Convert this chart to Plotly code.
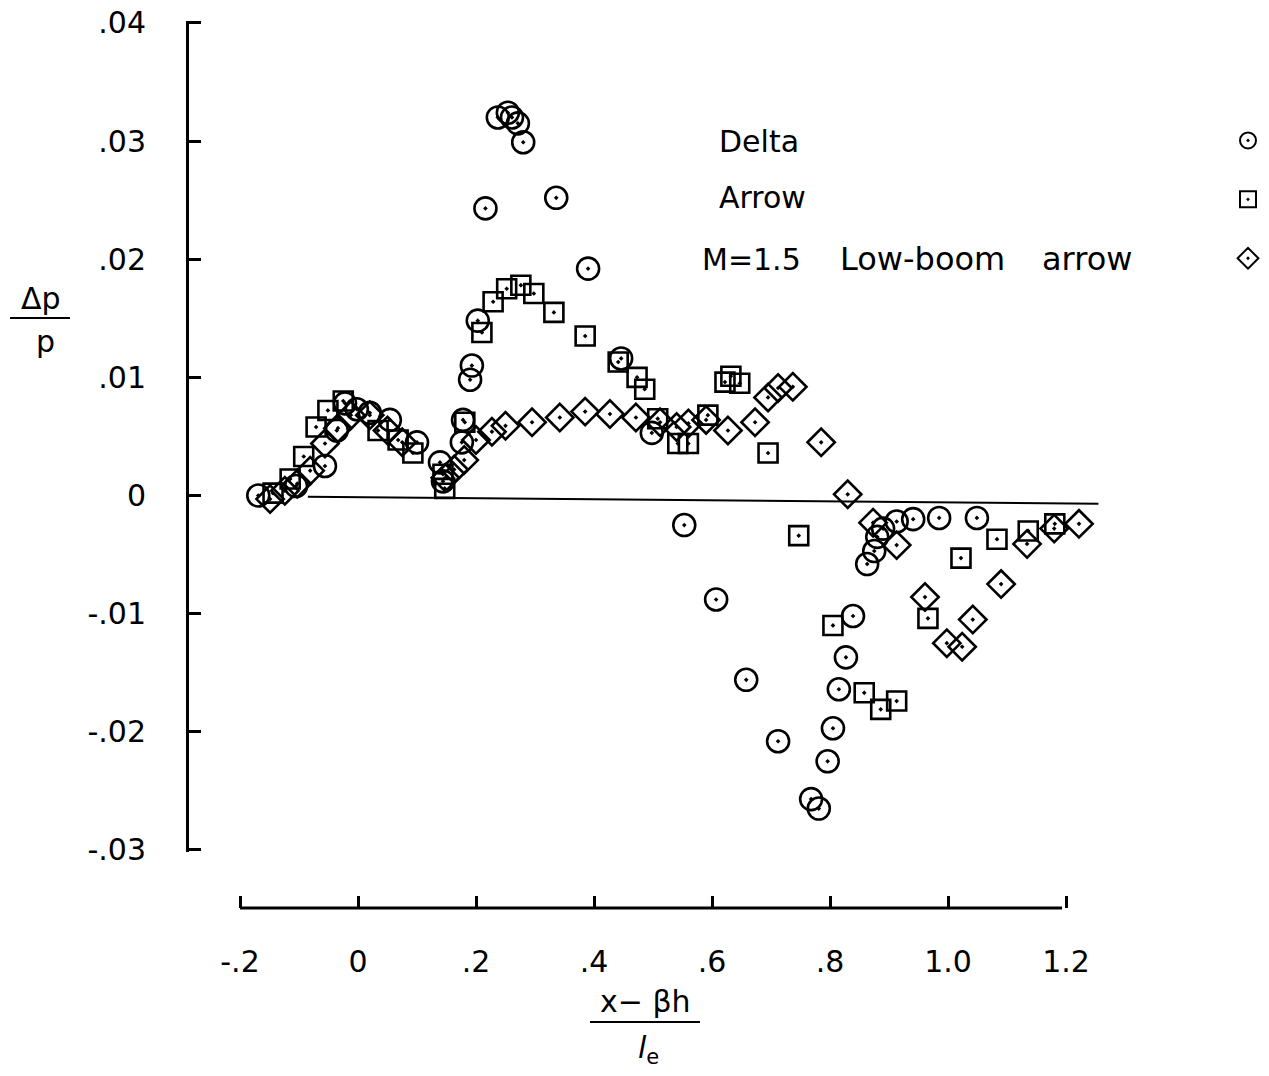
import plotly.graph_objects as go

# ---------------- data ----------------
delta_x = [-0.169, -0.105, -0.056, -0.036, -0.022, -0.002, 0.020, 0.054, 0.100, 0.139,
           0.144, 0.176, 0.178, 0.190, 0.193, 0.203, 0.216, 0.237, 0.254, 0.261,
           0.271, 0.280, 0.336, 0.390, 0.446, 0.498, 0.553, 0.607, 0.658, 0.712,
           0.768, 0.781, 0.796, 0.805, 0.815, 0.827, 0.839, 0.863, 0.875, 0.880,
           0.890, 0.913, 0.941, 0.985, 1.049]
delta_y = [0.0000, 0.0008, 0.0025, 0.0055, 0.0078, 0.0073, 0.0070, 0.0064, 0.0045, 0.0028,
           0.0012, 0.0045, 0.0064, 0.0098, 0.0110, 0.0148, 0.0243, 0.0320, 0.0324, 0.0320,
           0.0315, 0.0299, 0.0252, 0.0192, 0.0116, 0.0053, -0.0025, -0.0088, -0.0156, -0.0208,
           -0.0257, -0.0265, -0.0225, -0.0197, -0.0164, -0.0137, -0.0102, -0.0058, -0.0047, -0.0035,
           -0.0028, -0.0022, -0.0020, -0.0019, -0.0019]

arrow_x = [-0.144, -0.115, -0.092, -0.071, -0.051, -0.025, 0.034, 0.068, 0.093, 0.144,
           0.147, 0.181, 0.210, 0.229, 0.252, 0.276, 0.298, 0.332, 0.385, 0.441,
           0.473, 0.486, 0.508, 0.542, 0.560, 0.593, 0.622, 0.632, 0.647, 0.695,
           0.747, 0.805, 0.858, 0.886, 0.913, 0.966, 1.022, 1.083, 1.136, 1.181]
arrow_y = [0.0002, 0.0014, 0.0033, 0.0058, 0.0072, 0.0080, 0.0055, 0.0047, 0.0036, 0.0018,
           0.0006, 0.0062, 0.0138, 0.0164, 0.0175, 0.0178, 0.0171, 0.0155, 0.0135, 0.0113,
           0.0100, 0.0090, 0.0065, 0.0044, 0.0044, 0.0068, 0.0096, 0.0101, 0.0095, 0.0036,
           -0.0034, -0.0110, -0.0167, -0.0181, -0.0174, -0.0104, -0.0053, -0.0037, -0.0030, -0.0024]

lowboom_x = [-0.149, -0.124, -0.103, -0.081, -0.056, -0.034, -0.012, 0.020, 0.050, 0.075,
             0.148, 0.163, 0.180, 0.200, 0.227, 0.250, 0.295, 0.342, 0.385, 0.427,
             0.471, 0.512, 0.540, 0.560, 0.590, 0.627, 0.673, 0.695, 0.712, 0.737,
             0.785, 0.830, 0.873, 0.913, 0.961, 0.998, 1.024, 1.042, 1.090, 1.134,
             1.180, 1.222]
lowboom_y = [-0.0003, 0.0004, 0.0010, 0.0021, 0.0044, 0.0057, 0.0068, 0.0068, 0.0055, 0.0045,
             0.0015, 0.0022, 0.0030, 0.0047, 0.0054, 0.0059, 0.0062, 0.0066, 0.0071, 0.0069,
             0.0066, 0.0062, 0.0058, 0.0061, 0.0064, 0.0055, 0.0062, 0.0083, 0.0091, 0.0092,
             0.0045, 0.0001, -0.0023, -0.0042, -0.0086, -0.0125, -0.0128, -0.0105, -0.0075, -0.0041,
             -0.0028, -0.0024]

zero_x = [-0.085, 1.255]
zero_y = [-0.0001, -0.0007]

x_tickvals = [-0.2, 0.0, 0.2, 0.4, 0.6, 0.8, 1.0, 1.2]
x_ticktext = ["-.2", "0", ".2", ".4", ".6", ".8", "1.0", "1.2"]
y_tickvals = [-0.03, -0.02, -0.01, 0.0, 0.01, 0.02, 0.03, 0.04]
y_ticktext = ["-.03", "-.02", "-.01", "0", ".01", ".02", ".03", ".04"]

names = ["Delta", "Arrow", "M=1.5 Low-boom arrow"]

# ---------------- layout helpers ----------------
FW, FH = 1269, 1076


def pxx(p):
    return p / FW


def pxy(p):
    return 1 - p / FH


FONT = "DejaVu Sans"
LW = 2.6

# x scale: value 0 at px 358, 590 px per unit
X0PX, XPPU = 358.0, 590.0
x_dom_px = (190, 1265)
x_range = [(p - X0PX) / XPPU for p in x_dom_px]

# y scale: value 0 at px 495.5, 11814 px per unit (upwards)
Y0PX, YPPU = 495.5, 11814.0
y_range = [-0.0302, 0.0402]
y_dom = [pxy(Y0PX - y_range[0] * YPPU), pxy(Y0PX - y_range[1] * YPPU)]

fig = go.Figure()

fig.add_trace(go.Scatter(x=zero_x, y=zero_y, mode="lines",
                         line=dict(color="black", width=2),
                         showlegend=False, hoverinfo="skip"))

styles = [
    dict(symbol="circle-open-dot", size=22),
    dict(symbol="square-open-dot", size=19),
    dict(symbol="diamond-open-dot", size=21),
]
series = [(delta_x, delta_y), (arrow_x, arrow_y), (lowboom_x, lowboom_y)]

for (sx, sy), st, nm in zip(series, styles, names):
    fig.add_trace(go.Scatter(
        x=sx, y=sy, mode="markers", name=nm, showlegend=False,
        cliponaxis=False,
        marker=dict(symbol=st["symbol"], size=st["size"], color="black",
                    line=dict(color="black", width=LW))))

# legend-only entries (symbols shown on the right of the text labels)
for st in styles:
    fig.add_trace(go.Scatter(
        x=[None], y=[None], mode="markers", name="\u00a0", showlegend=True,
        marker=dict(symbol=st["symbol"], size=16, color="black",
                    line=dict(color="black", width=2))))

annotations = []
legend_rows = [(717, 141, "Delta", 30), (717, 198, "Arrow", 30),
               (700, 259, "M=1.5", 30), (838, 259, "Low-boom", 32), (1040, 259, "arrow", 32)]
for lx, ly, txt, fs in legend_rows:
    annotations.append(dict(x=pxx(lx), y=pxy(ly), xref="paper", yref="paper",
                            text=txt, showarrow=False, xanchor="left", yanchor="middle",
                            font=dict(family=FONT, size=fs, color="black")))

# y-axis title  Δp / p
annotations.append(dict(x=pxx(41), y=pxy(299), xref="paper", yref="paper", text="Δp",
                        showarrow=False, xanchor="center", yanchor="middle",
                        font=dict(family=FONT, size=30, color="black")))
annotations.append(dict(x=pxx(46), y=pxy(342), xref="paper", yref="paper", text="p",
                        showarrow=False, xanchor="center", yanchor="middle",
                        font=dict(family=FONT, size=30, color="black")))
# x-axis title  (x - βh) / l_e
annotations.append(dict(x=pxx(645), y=pxy(1001), xref="paper", yref="paper", text="x− βh",
                        showarrow=False, xanchor="center", yanchor="middle",
                        font=dict(family=FONT, size=30, color="black")))
annotations.append(dict(x=pxx(648), y=pxy(1049), xref="paper", yref="paper",
                        text="<i>l</i><sub>e</sub>",
                        showarrow=False, xanchor="center", yanchor="middle",
                        font=dict(family=FONT, size=30, color="black")))

shapes = [
    # fraction bars
    dict(type="line", xref="paper", yref="paper", x0=pxx(10), x1=pxx(70),
         y0=pxy(318), y1=pxy(318), line=dict(color="black", width=2)),
    dict(type="line", xref="paper", yref="paper", x0=pxx(590), x1=pxx(700),
         y0=pxy(1022), y1=pxy(1022), line=dict(color="black", width=2)),
    # visible x-axis line (spans -.2 .. 1.2)
    dict(type="line", xref="paper", yref="paper", x0=pxx(240), x1=pxx(1062),
         y0=pxy(908), y1=pxy(908), line=dict(color="black", width=3)),
]

fig.update_layout(
    width=FW, height=FH,
    margin=dict(l=0, r=0, t=0, b=0, autoexpand=False),
    paper_bgcolor="white", plot_bgcolor="white",
    font=dict(family=FONT, size=30, color="black"),
    showlegend=True,
    legend=dict(x=pxx(1228), y=pxy(106), xanchor="left", yanchor="top",
                font=dict(family=FONT, size=43), bgcolor="rgba(0,0,0,0)",
                itemwidth=30, tracegroupgap=0),
    annotations=annotations,
    shapes=shapes,
    xaxis=dict(domain=[pxx(x_dom_px[0]), pxx(x_dom_px[1])], range=x_range,
               anchor="free", position=pxy(908),
               showline=False, showgrid=False, zeroline=False,
               ticks="inside", ticklen=12, tickwidth=2.5, tickcolor="black",
               tickvals=x_tickvals, ticktext=x_ticktext,
               tickfont=dict(family=FONT, size=30, color="black"),
               ticklabelstandoff=33),
    yaxis=dict(domain=y_dom, range=y_range,
               anchor="free", position=pxx(187),
               showline=True, linewidth=3, linecolor="black",
               showgrid=False, zeroline=False,
               ticks="inside", ticklen=12, tickwidth=2.5, tickcolor="black",
               tickvals=y_tickvals, ticktext=y_ticktext,
               tickfont=dict(family=FONT, size=30, color="black"),
               ticklabelstandoff=34),
)

page_fix = ("document.body.style.margin='0';"
            "document.body.style.overflow='hidden';"
            "document.documentElement.style.overflow='hidden';")

fig.write_html("out.html", post_script=page_fix, config={"displayModeBar": False})
